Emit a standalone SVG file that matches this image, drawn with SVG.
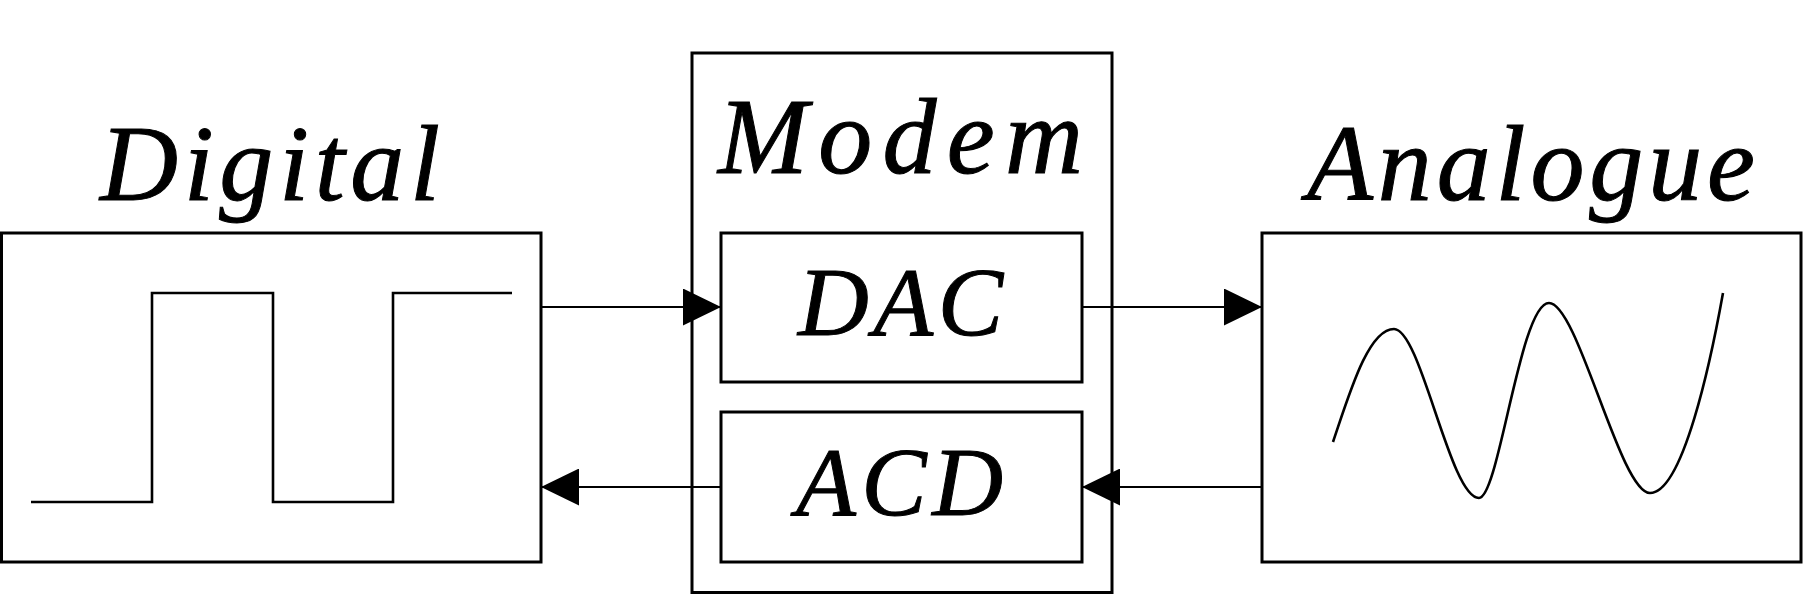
<svg xmlns="http://www.w3.org/2000/svg" width="1806" height="609" viewBox="0 0 1806 609">
<style>
.box{fill:none;stroke:#000;stroke-width:3}
.wave{fill:none;stroke:#000;stroke-width:2.6;stroke-linejoin:miter}
.conn{fill:none;stroke:#000;stroke-width:2}
.lbl{font-family:"Liberation Serif","DejaVu Serif",serif;font-style:italic;fill:#000;stroke:#000;stroke-width:1}
.title{font-size:108px}
.inner{font-size:98px}
</style>
<defs>
<marker id="arr" viewBox="0 0 38 37" refX="38" refY="18.5" markerWidth="38" markerHeight="37" markerUnits="userSpaceOnUse" orient="auto">
<path d="M0,0 L38,18.5 L0,37 Z" fill="#000"/>
</marker>
</defs>
<rect width="1806" height="609" fill="#fff"/>
<g id="digital">
<text class="lbl title" x="100" y="200" textLength="340" lengthAdjust="spacing">Digital</text>
<rect class="box" x="1.5" y="233" width="539.5" height="329"/>
<path class="wave" d="M31,502 H152 V293 H273 V502 H393 V293 H512"/>
</g>
<g id="modem">
<rect class="box" x="692" y="53" width="420" height="539.5"/>
<text class="lbl title" x="718" y="173" textLength="365" lengthAdjust="spacing">Modem</text>
</g>
<g id="dac">
<rect class="box" x="721" y="233" width="361" height="149"/>
<text class="lbl inner" x="798" y="335" textLength="205" lengthAdjust="spacing">DAC</text>
</g>
<g id="acd">
<rect class="box" x="721" y="412" width="361" height="150"/>
<text class="lbl inner" x="796" y="515" textLength="207" lengthAdjust="spacing">ACD</text>
</g>
<g id="analogue">
<text class="lbl title" x="1307" y="200" textLength="448" lengthAdjust="spacing">Analogue</text>
<rect class="box" x="1262" y="233" width="539" height="329"/>
<path class="wave" d="M1333,442 C1349,395 1368,329 1394,329 C1421,329 1450,498 1479,498 C1499,498 1520,303 1549,303 C1578,303 1620,493 1650,493 C1683,493 1711,360 1723,293"/>
</g>
<g id="connectors">
<line class="conn" x1="541" y1="307" x2="721" y2="307" marker-end="url(#arr)"/>
<line class="conn" x1="1082" y1="307" x2="1262" y2="307" marker-end="url(#arr)"/>
<line class="conn" x1="1262" y1="487" x2="1082" y2="487" marker-end="url(#arr)"/>
<line class="conn" x1="721" y1="487" x2="541" y2="487" marker-end="url(#arr)"/>
</g>
</svg>
